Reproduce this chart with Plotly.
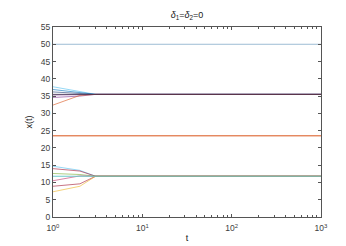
import plotly.graph_objects as go

t = [1, 2, 3, 1000]

# upper group (converges to ~35.5)
upper = {
    "u1": [37.7, 36.4, 35.5, 35.5],
    "u2": [36.9, 36.0, 35.5, 35.5],
    "u3": [36.2, 35.8, 35.5, 35.5],
    "u4": [35.3, 35.4, 35.5, 35.5],
    "u5": [34.6, 35.0, 35.5, 35.5],
    "u6": [32.4, 35.2, 35.5, 35.5],
}
upper_colors = ["#4DBEEE", "#0072BD", "#1F3B73", "#7E2F8E", "#7E2F8E", "#D95319"]

# lower group (converges to ~11.8)
lower = {
    "l1": [14.7, 13.5, 11.8, 11.8],
    "l2": [14.0, 13.3, 11.8, 11.8],
    "l3": [12.6, 12.3, 11.8, 11.8],
    "l4": [10.5, 11.9, 11.8, 11.8],
    "l5": [8.9, 9.6, 11.8, 11.8],
    "l6": [7.3, 8.9, 11.8, 11.8],
}
lower_colors = ["#4DBEEE", "#A2142F", "#77AC30", "#C0306A", "#A2142F", "#EDB120"]

const_top = [50, 50, 50, 50]
const_mid = [23.5, 23.5, 23.5, 23.5]
conv_upper = [35.5, 35.5, 35.5, 35.5]
conv_lower = [11.8, 11.8, 11.8, 11.8]

fig = go.Figure()
fig.add_trace(go.Scatter(x=t, y=const_top, mode="lines", line=dict(color="#5B8FB5", width=0.6)))
for (k, v), c in zip(upper.items(), upper_colors):
    fig.add_trace(go.Scatter(x=t, y=v, mode="lines", line=dict(color=c, width=0.6)))
fig.add_trace(go.Scatter(x=t, y=conv_upper, mode="lines", line=dict(color="#3a2d4a", width=0.8)))
fig.add_trace(go.Scatter(x=t, y=const_mid, mode="lines", line=dict(color="#D95319", width=1.0)))
for (k, v), c in zip(lower.items(), lower_colors):
    fig.add_trace(go.Scatter(x=t, y=v, mode="lines", line=dict(color=c, width=0.6)))
fig.add_trace(go.Scatter(x=t, y=conv_lower, mode="lines", line=dict(color="#6CC8C8", width=1.0)))

minor_vals = [m * d for d in [1, 10, 100] for m in range(2, 10)]

fig.update_layout(
    width=346, height=246,
    margin=dict(l=45, r=33, t=19, b=29),
    paper_bgcolor="white", plot_bgcolor="white",
    showlegend=False,
    font=dict(family="Liberation Sans, Arial, sans-serif", size=8, color="#404040"),
    title=dict(text="<i>δ</i><sub>1</sub>=<i>δ</i><sub>2</sub>=0", x=0.5, xref="paper",
               y=0.985, yref="container", yanchor="top",
               font=dict(size=9, color="#202020")),
    xaxis=dict(
        type="log", range=[0, 3],
        tickmode="array", tickvals=[1, 10, 100, 1000],
        ticktext=["10<sup>0</sup>", "10<sup>1</sup>", "10<sup>2</sup>", "10<sup>3</sup>"],
        ticks="inside", ticklen=3, tickcolor="#555555", ticklabelstandoff=3,
        showline=True, linecolor="#555555", linewidth=1, mirror="allticks",
        showgrid=False, zeroline=False,
        minor=dict(tickmode="array", tickvals=minor_vals, ticks="inside", ticklen=2,
                   tickcolor="#555555", showgrid=False),
        title=dict(text="t", standoff=2, font=dict(size=9, color="#202020")),
        tickfont=dict(size=8.5),
    ),
    yaxis=dict(
        range=[0, 55], tickmode="linear", tick0=0, dtick=5,
        ticks="inside", ticklen=3, tickcolor="#555555",
        showline=True, linecolor="#555555", linewidth=1, mirror="allticks",
        showgrid=False, zeroline=False,
        title=dict(text="x(t)", standoff=6, font=dict(size=9, color="#202020")),
        tickfont=dict(size=8.5),
    ),
)

fig.write_html("out.html")
